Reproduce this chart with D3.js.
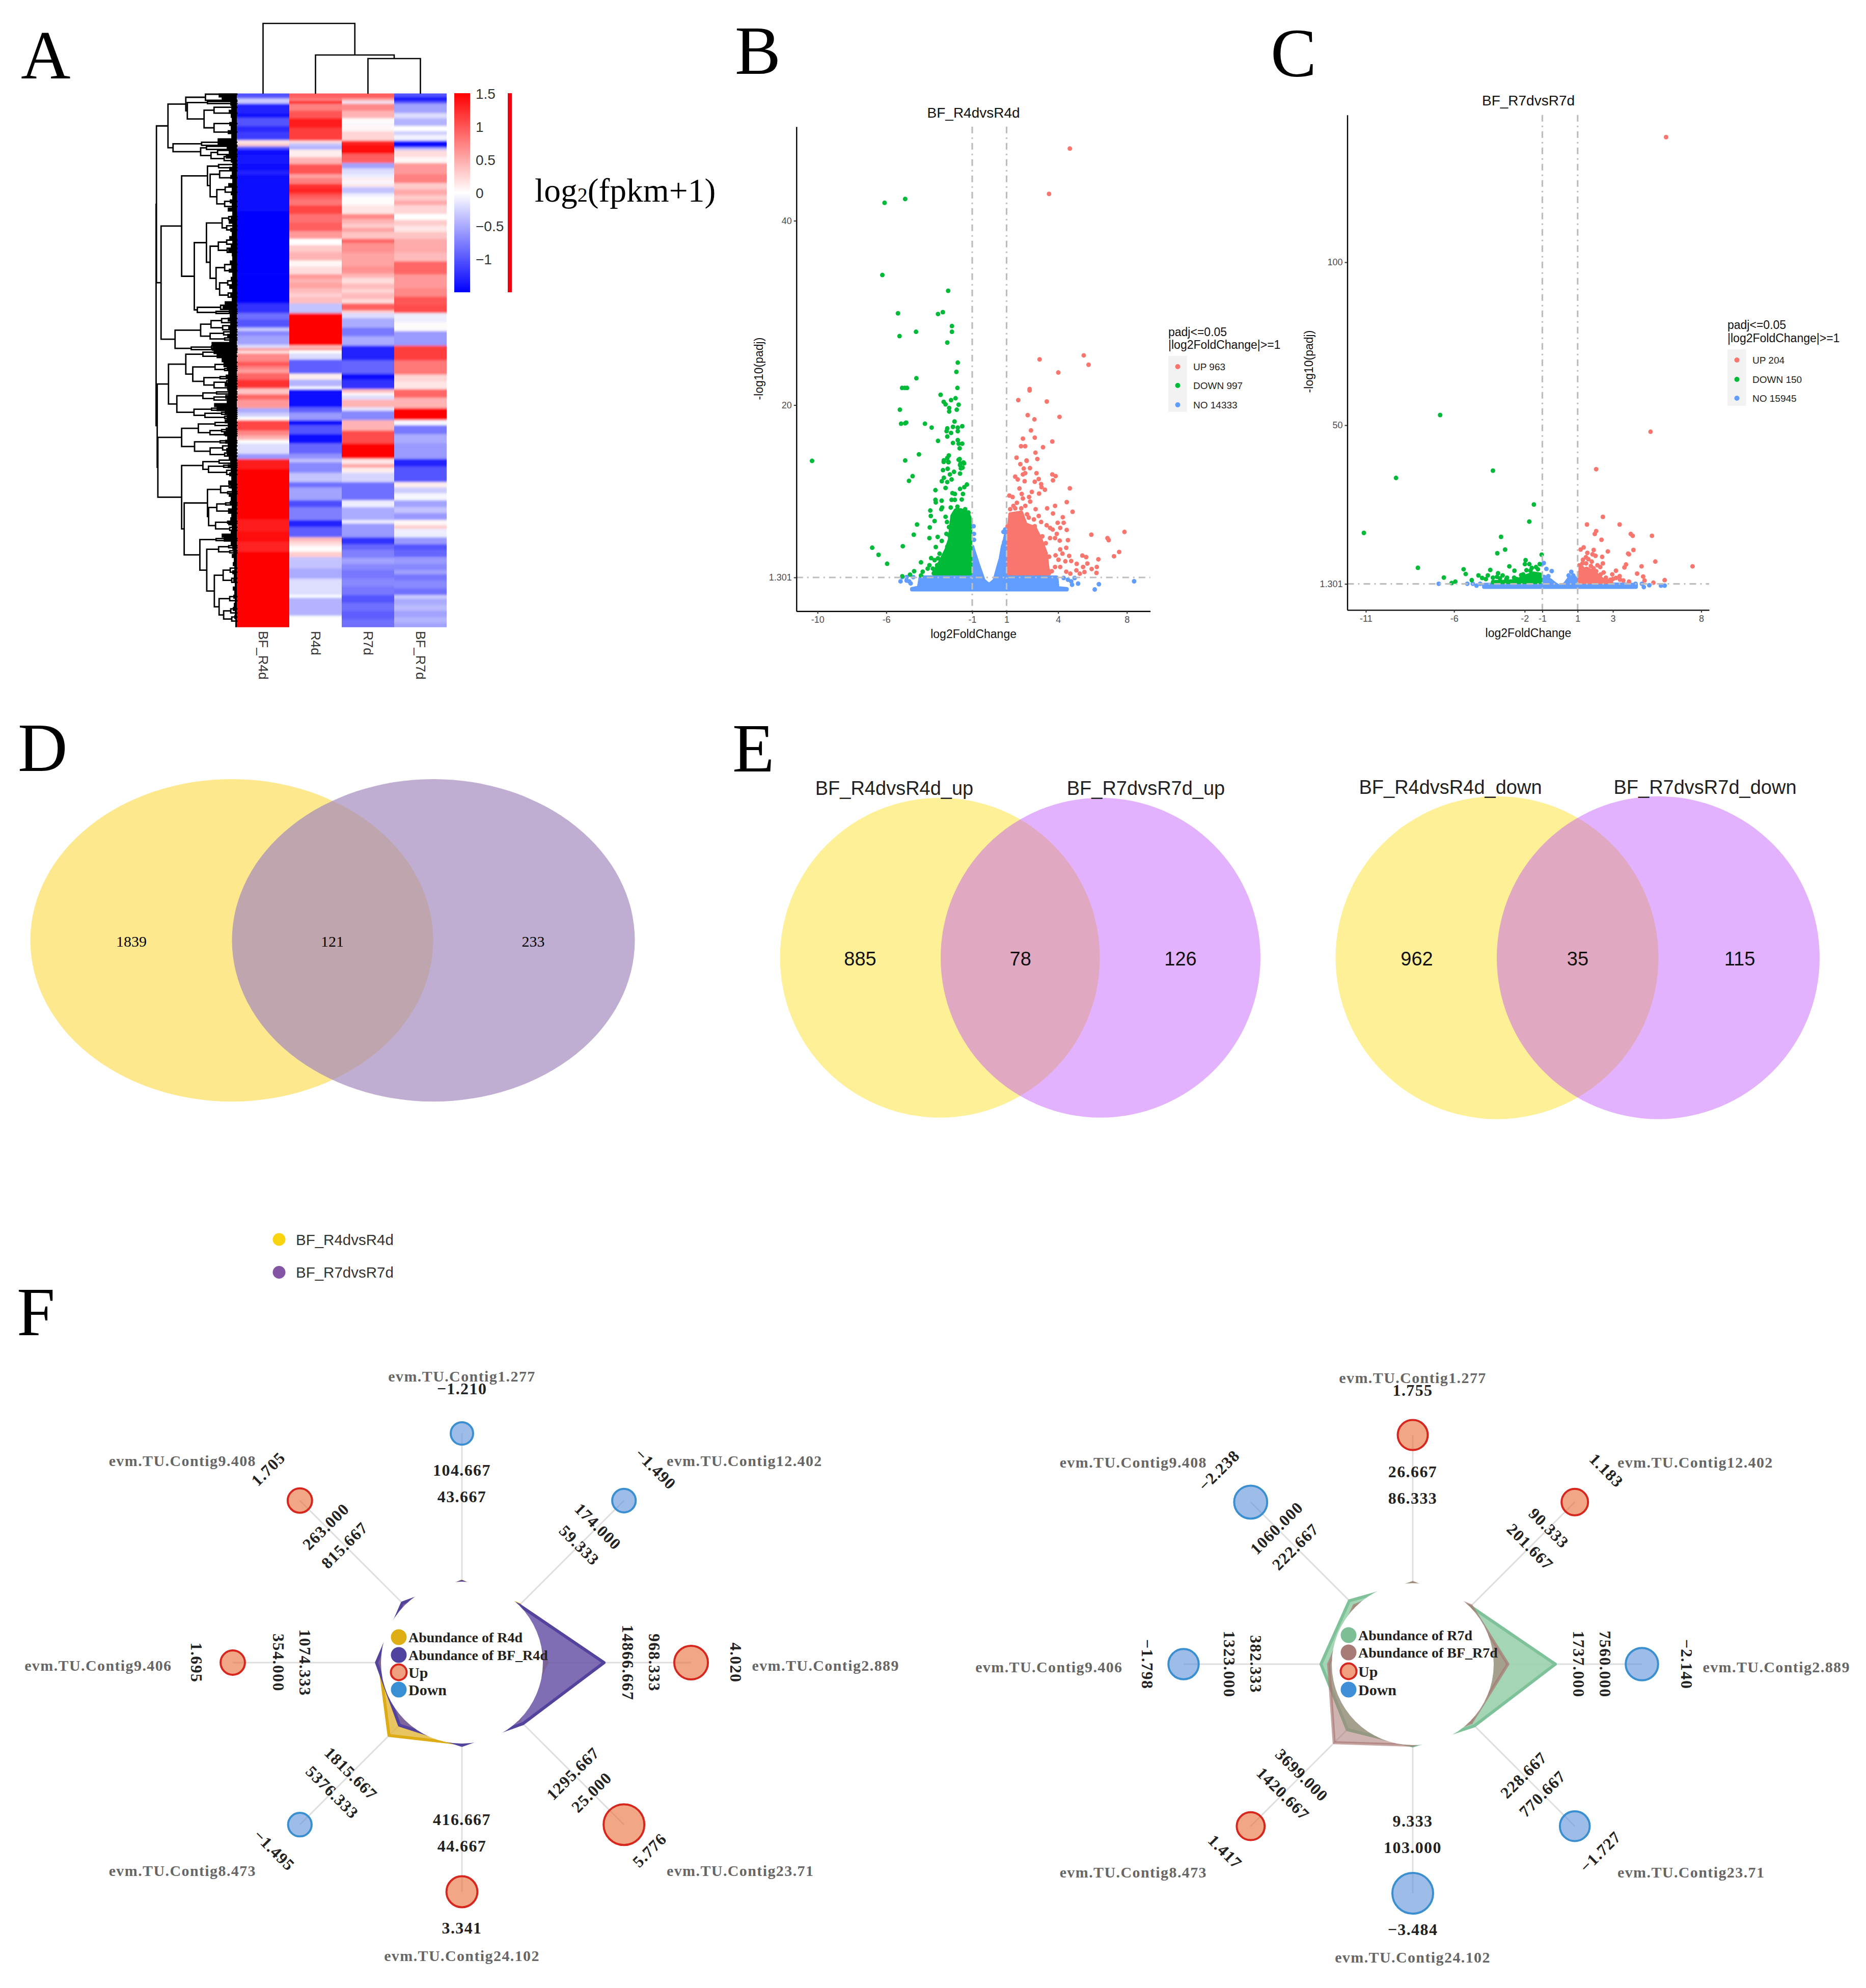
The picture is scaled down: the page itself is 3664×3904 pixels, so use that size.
<!DOCTYPE html>
<html>
<head>
<meta charset="utf-8">
<script src="https://cdnjs.cloudflare.com/ajax/libs/d3/7.8.5/d3.min.js"></script>
<style>
html,body{margin:0;padding:0;background:#fff;}
svg{display:block;}
text{font-family:"Liberation Sans",Arial,sans-serif;}
</style>
</head>
<body>
<div id="chart"></div>
<script>
// ===== DATA =====
const panelLetters = ["A","B","C","D","E","F"];
// --- A: heatmap. Each column = list of [row where the band ends, z-score]
const heatColumns = ["BF_R4d","R4d","R7d","BF_R7d"];
const heatRowCount = 262;
const heatBF_R4d = [[2.5,-1.0],[5,-0.3],[10,-1.3],[12,-1.4],[16,-1.0],[19,-1.25],[23,-1.15],[24.5,0.15],[26,0.3],[27.5,-1.0],[30,-1.45],[34.6,-1.35],[38,-1.4],[40,-1.3],[43,-1.4],[58,-1.45],[88.7,-1.5],[103,-1.5],[107.8,-1.2],[111,-0.85],[115,-1.0],[116.6,-0.3],[119,-0.7],[123.4,-0.55],[125,-0.2],[126.4,0.6],[127.6,0.15],[131.7,0.7],[133.8,1.0],[135.5,0.75],[137.2,0.55],[140.5,0.9],[144.8,1.2],[147.7,0.35],[150.3,0.9],[154.5,0.6],[156.6,-0.5],[158.7,-0.3],[160.4,0.0],[165.5,1.1],[168,0.7],[170.1,0.45],[171.8,0.0],[176.9,-0.2],[179.4,-0.6],[184.5,1.35],[209,1.5],[214.9,1.35],[220,1.45],[225,1.3],[262,1.5]];
const heatR4d = [[2.5,0.95],[3.8,0.75],[5,1.4],[8.5,0.75],[12.2,1.0],[16.9,1.35],[23.2,1.15],[24.5,0.2],[26.2,-0.35],[27.5,-0.5],[31.3,0.1],[34.7,0.45],[39.7,1.0],[41.5,0.55],[44.4,0.75],[47,1.2],[48.5,1.35],[49.9,1.15],[52,0.95],[54.9,0.8],[59.2,1.1],[63.4,0.85],[67.6,0.95],[71.4,0.6],[74.4,0.0],[77.8,0.3],[82,0.45],[85,0.05],[88.8,0.2],[91,0.6],[93,0.45],[95.6,0.55],[98,0.4],[100,0.28],[103.1,0.38],[107.8,-0.35],[123.8,1.5],[125,0.3],[126,0.8],[127.6,0.0],[130.6,-0.2],[137.6,-0.95],[140.5,0.1],[143.9,-0.45],[145.2,0.0],[154.1,-1.45],[156.6,-0.95],[160.4,-0.6],[162.9,-1.4],[167.2,-1.0],[171.8,-1.4],[176.9,-0.9],[179.4,-0.65],[181.1,-0.35],[186.2,-0.7],[190.8,-0.35],[193.4,-0.85],[199.7,-0.55],[203.1,-1.05],[209.4,-0.75],[212.8,-1.3],[217.9,-0.95],[220,0.4],[222.1,0.2],[225,0.02],[227.6,0.3],[233.1,-0.35],[238.2,-0.5],[246.2,-0.2],[247.5,0.0],[256.4,-0.45],[262,0.0]];
const heatR7d = [[2.5,0.95],[3.8,0.5],[5,-0.1],[8.5,0.7],[12.2,0.45],[14.4,0.02],[15.6,-0.05],[18.6,0.05],[23.2,0.25],[25.4,1.3],[29.6,1.45],[34.2,0.95],[36.8,-0.55],[39.7,-0.2],[41.5,-0.1],[43,0.1],[44.5,-0.05],[46,0.15],[49,-0.35],[50.7,-0.1],[54.9,0.02],[59.2,0.15],[61.7,0.7],[64,0.45],[66,0.3],[68,0.55],[71.4,0.35],[73.5,0.9],[78.2,0.65],[85,0.55],[88.3,0.65],[90.5,0.45],[93.4,0.2],[96,0.4],[98,0.25],[101,0.4],[103.1,0.2],[106.5,0.95],[107.8,0.3],[110.3,-0.2],[115,-0.5],[119.2,-0.8],[123.8,-0.5],[131,-1.3],[137.6,-0.9],[140.5,-1.45],[145.2,-1.2],[146.9,0.4],[148.2,0.05],[150.3,-0.2],[154.1,0.45],[155.8,-0.15],[160.4,-0.7],[165.5,0.45],[171.8,1.05],[179.4,1.5],[182,0.15],[183.7,0.55],[186.2,0.1],[190.8,-0.25],[199.7,-0.85],[203.1,-0.1],[209.4,-0.5],[211.1,-0.1],[217.9,-0.6],[221.3,-1.2],[224,-0.9],[228,-0.75],[231,-0.55],[234,-0.7],[238,-0.8],[242,-0.7],[246.2,-0.8],[250,-1.0],[254,-0.85],[258,-0.95],[262,-0.85]];
const heatBF_R7d = [[1.7,-1.0],[3.8,-1.35],[5,-1.0],[9.7,-0.55],[12.2,-0.2],[16,-0.45],[18.6,0.0],[20.3,-0.3],[23.2,-0.08],[26.6,-1.4],[27.9,-0.4],[31.3,0.2],[34.2,0.05],[39.7,0.6],[44,0.75],[47,0.3],[50,0.5],[52.5,0.3],[54.9,0.5],[59.2,0.25],[62.1,0.0],[65,0.3],[68,0.15],[71.4,0.35],[78.2,0.5],[82.4,0.4],[88.8,0.9],[95.6,0.6],[99.8,0.7],[104,1.0],[107.8,1.05],[112.4,-0.1],[116.7,0.03],[123.8,-0.6],[131,1.15],[138,0.8],[141.4,0.25],[145.2,0.15],[149.4,0.9],[154.5,0.45],[160.4,1.5],[162.9,-0.05],[167.2,-0.8],[171.8,-0.5],[179.4,-0.6],[183.2,-1.3],[190.8,-1.0],[193.4,0.1],[196.3,-0.3],[199.7,-0.05],[203,-0.55],[206,-0.35],[209.4,-0.6],[212,0.05],[213.7,0.3],[217.9,-0.1],[221.3,-0.6],[224,-1.0],[227.6,-0.9],[231,-0.6],[234,-0.7],[236,-0.55],[239,-0.8],[243,-0.7],[246.2,-0.85],[248,-0.3],[251,-0.5],[254,-0.4],[257,-0.55],[260,-0.45],[262,-0.55]];
const heatColourTicks = [1.5,1,0.5,0,-0.5,-1];
// left dendrogram: [height, childA, childB]; a bare number is a leaf row
const rowTree = [159.5,
  [158.8,
    [136,
      [100.8,[62,0.4,3.4],[97.8,[58,4,5],[64.7,[45,6.8,9.7],[45,14.8,19]]]],
      [126,[69.6,24,25.5],[71.5,[60,26,27.5],[51,[38,28,30],[25,31,33]]]]],
    [149.7,
      [109,
        [58,[36,34.9,36.5],[52.7,[34,38,41.4],[39.5,[23,46,48.5],[24,53,55.5]]]],
        [84,
          [60,[29,[16,60.5,62],[20,65,67]],[52.7,[36.5,[20,72,74],[19,76,78]],[41,[24,84,87],[34,[18,92,94],[17,98,100]]]]],
          [78,[32,104,106],[41,107,108]]]],
      [122,
        [71.5,[51,[30,110.5,112.5],[28,114,116]],[52.7,[26,117,118.5],[24,120,121]]],
        [90,[50,124,125],[48,125.5,126]]]]],
  [157.3,
    [135,
      [100.8,[67,127,129],[87,[43,[25,132,134],[24,135,136]],[65,[33,139,140],[45,[20,141,142.5],[18,144,145]]]]],
      [118.5,[67,[40,146.5,147.5],[45,149,150.5]],[84.6,[50,154.5,155.5],[63,[30,156.5,157.5],[24,158.5,159.5]]]]],
    [156,
      [109,
        [76,[43,161.5,163],[53,[30,165,166],[22,167,168]]],
        [83.5,[33,170.5,171.5],[52.7,[28,173,175],[24,176.5,178]]]],
      [109,
        [67,[35,180,181.5],[56,[26,182.5,183.5],[20,185,187]]],
        [104,
          [58,[32,[15,192,193.5],[18,195.5,196.5]],[55.7,[39.5,[22,201,202],[16,204,206]],[42,[18,210,211],[14,213,214.5]]]],
          [73,[41,218.5,219.5],[59.4,[36,[16,222,223],[14,224.5,225.5]],[44.4,[27,[13,233,235],[10,238,240]],[35,[14,247,249],[26,[12,253,255],[10,257,259]]]]]]]]]]];
// heights of the solid black comb of the row dendrogram, one value per two rows
const rowFringeHeights = [36,36,30, 13,11,16,12,10,15,12,18,11, 38,38, 20,16,22,
 12,9,15,10,13,9,17,10,12,9,14,10,18,9,12,16,9,13,10,15,9,12,17,10,9,14,11,16,9,12,10,15,9,13,10,
 24,28, 16,14,18,13,17,14,19,15, 50,48,46,40,30,24, 20,17,22,18,24,19,17,23,20, 45,40,24,
 20,24,18,22,26,19,23,18,21,20, 16,13,18,12,15,11,17,13,10,16,12,14,10,15,11,13,17,10,12, 30,26,
 12,9,7,10,6,8,5,9,6,7,4,8,5,7,4,6,8,4,5,3,3];
// column dendrogram: [height, left, right] with column names as leaves
const colTree = [137,"BF_R4d",[75,"R4d",[68,"R7d","BF_R7d"]]];

// --- B volcano
const volB_title = "BF_R4dvsR4d";
const volB_xticks = [-10,-6,-1,1,4,8];
const volB_yticks = [1.301,20,40];
const volB_legend = ["UP 963","DOWN 997","NO 14333"];
const volB_up = [[4.68,47.83],[3.47,42.91],[5.49,25.39],[5.77,24.38],[2.92,24.96],[4.01,23.53],[2.34,21.74],[2.34,21.59],[1.68,20.54],[3.34,20.39],[2.23,18.91],[2.62,18.45],[4.08,18.72],[2.42,17.25],[2.64,16.47],[1.95,16.36],[3.66,16.05],[1.84,15.54],[2.08,15.54],[3.12,15.43],[2.68,14.84],[2.79,14.15],[1.58,14.30],[2.16,13.99],
[1.80,13.59],[2.17,13.95],[2.0,13.12],[2.36,13.16],[1.95,12.48],[2.08,12.61],[2.74,12.61],[1.5,12.24],[1.65,11.93],[2.05,11.74],[2.87,11.98],[2.64,11.69],[3.66,12.48],[3.85,12.3],[3.7,11.84],[3.01,11.43],[3.03,11.1],[3.23,10.82],[1.75,10.95],[4.68,10.97],[2.47,10.58],[2.89,10.4],[1.88,10.36],[1.95,9.87],[2.31,10.03],[2.37,9.53],[1.16,10.18],[1.35,10.03],[1.6,9.4],[1.4,9.07],[2.09,9.07],[1.85,8.8],[2.69,8.71],[3.36,8.8],[3.82,9.07],[4.5,9.48],[3.7,8.24],[4.84,8.43],[4.27,7.84],[2.87,7.97],[3.01,7.32],[3.97,7.23],[4.32,7.23],[3.33,6.96],[3.53,6.68],[4.12,6.68],[4.5,6.46],[3.68,6.5],[3.92,6.03],[3.82,5.57],[3.53,5.57],[4.09,5.3],[4.57,5.35],[4.47,4.52],[4.12,4.34],[4.25,3.88],[4.64,3.64],[3.85,3.7],[4.02,3.22],[4.42,3.05],[4.76,3.09],[5.08,2.78],[5.41,3.68],[5.63,3.51],[6.34,3.27],[5.93,5.94],[6.87,5.57],[6.94,5.35],[5.7,2.81],[5.45,2.44],[6.25,2.44],[5.95,2.22],[6.23,1.8],[5.06,2.07],[5.26,1.71],[5.53,1.89],[4.71,1.71],[4.47,1.93],[4.12,2.44],[3.82,2.44],[3.63,1.98],[3.28,3.0],[3.48,3.55],[3.18,2.44],[2.64,6.86],[3.08,5.76],[3.28,5.02],[2.29,7.79],[2.59,7.6],[2.19,8.15],[1.5,8.8],[1.21,8.71],[1.06,6.86],[7.86,6.24],[7.55,4.07],[7.25,3.60]];
const volB_down = [[-6.10,41.94],[-4.90,42.36],[-6.23,34.11],[-2.40,32.40],[-2.71,30.08],[-2.99,29.88],[-5.32,29.96],[-2.18,28.57],[-2.18,27.95],[-4.27,27.95],[-5.23,27.48],[-2.45,26.78],[-1.84,24.61],[-1.92,23.60],[-4.25,22.91],[-5.08,21.86],[-4.92,21.86],[-4.79,21.86],[-1.86,21.86],[-2.84,21.12],[-2.66,20.35],[-2.23,20.54],[-1.97,20.74],[-2.55,20.08],[-1.79,20.04],[-5.21,19.50],[-2.34,19.69],[-1.90,19.50],[-2.34,19.30],[-2.03,18.22],[-5.14,17.98],[-4.90,18.02],[-4.84,18.10],[-3.75,17.98],[-3.36,17.56],[-2.45,17.48],[-2.12,17.64],[-1.84,17.56],[-1.58,17.71],[-2.49,17.17],[-2.23,16.98],[-1.84,17.17],[-2.45,16.59],[-2.99,16.12],[-1.84,16.20],[-2.12,15.89],[-1.79,15.81],[-1.58,15.81],[-1.73,15.31],[-10.32,13.95],[-4.90,13.99],[-4.10,14.65],[-2.36,14.53],[-2.45,14.26],[-1.79,14.07],[-4.47,12.29],[-4.68,11.78],[-6.82,4.53],[-6.45,3.76],[-5.95,2.79],[-2.66,13.84],[-2.38,13.80],[-1.68,13.68],[-1.47,13.68],
[-3.14,10.77],[-3.14,9.72],[-3.12,9.44],[-2.78,9.63],[-3.44,8.56],[-3.41,7.97],[-3.19,7.42],[-3.47,6.73],[-4.21,7.05],[-4.40,5.94],[-3.49,5.57],[-3.01,5.70],[-2.77,5.26],[-3.12,4.60],[-5.04,4.69],[-2.90,3.88],[-3.39,3.40],[-3.19,3.18],[-3.98,2.94],[-3.49,2.63],[-3.59,2.26],[-3.88,1.93],[-4.38,1.98],[-4.62,1.61],[-3.98,1.52],[-5.07,1.43],[-2.55,11.01],[-2.15,10.45],[-2.01,10.36],[-1.71,10.91],[-1.46,11.1],[-1.31,11.38],[-1.54,10.36],[-1.61,9.76],[-2.2,9.72],[-2.01,9.72],[-2.77,11.74],[-2.65,12.11],[-2.45,11.65],[-2.2,11.93],[-2.3,12.48],[-2.06,12.76],[-1.71,12.57],[-2.7,12.94],[-2.43,13.09],[-1.66,13.13],[-1.56,13.22],[-1.71,13.49],[-1.51,13.77],[-2.65,14.01],[-2.4,13.86],[-1.73,14.14],[-2.8,8.7],[-2.75,8.89],[-2.55,7.88],[-2.47,7.32],[-2.35,6.77],[-2.5,6.03],[-2.33,5.85],[-2.25,8.89],[-1.86,8.98],[-1.41,8.71],[-1.22,8.34],[-1.17,7.78],[-3.29,2.26],[-3.04,2.63],[-2.75,2.81],[-2.65,3.64],[-2.45,4.65],[-2.99,3.38]];
const volB_no = [[-0.92,6.86],[-0.9,6.03],[-0.9,5.39],[0.92,6.51],[0.82,6.24],[0.86,5.15],[-5.17,0.88],[-5.07,1.34],[-4.82,1.34],[-4.82,0.97],[-4.58,0.66],[-4.43,1.34],[-4.67,0.88],[8.42,0.89],[4.32,1.25],[4.57,1.06],[4.76,0.88],[4.81,0.51],[5.16,0.64],[4.96,1.25],[6.37,0.57],[6.13,0],[3.92,0.51]];
// dense clouds given as x + upper envelope of -log10(padj)
const volB_upCloudX = [1.12,1.22,1.85,2.1,2.64,2.98,3.28,3.38,3.48];
const volB_upCloudY = [6.13,8.15,8.34,7.05,6.68,5.39,3.92,2.26,1.75];
const volB_downCloudX = [-3.25,-2.85,-2.5,-2.3,-2.23,-2.15,-1.95,-1.66,-1.25,-1.12];
const volB_downCloudY = [1.75,3.0,4.3,5.4,6.8,8.0,8.6,8.6,8.3,7.4];
const volB_noCloudX = [-4.5,-4.1,-4.0,-1.01,-1.0,-0.88,-0.62,-0.34,-0.1,-0.02,0.06,0.3,0.52,0.66,0.78,0.88,0.99,1.0,3.9,3.95,4.5];
const volB_noCloudY = [0.05,0.2,1.3,1.3,4.65,3.92,2.44,0.97,0.6,0.55,0.6,0.97,2.44,3.36,4.65,5.2,6.2,1.3,1.3,0.15,0.05];

// --- C volcano
const volC_title = "BF_R7dvsR7d";
const volC_xticks = [-11,-6,-2,-1,1,3,8];
const volC_yticks = [1.301,50,100];
const volC_legend = ["UP 204","DOWN 150","NO 15945"];
const volC_up = [[6.01,138.4],[5.13,47.99],[2.05,36.5],[2.43,21.88],[1.53,19.53],[3.38,19.53],[2.05,17.52],[1.97,16.63],[4.01,16.63],[4.12,16.07],[5.21,16.07],[2.35,14.84],[1.34,12.5],[1.17,11.83],[1.91,11.72],[4.16,11.72],[2.71,11.27],[3.86,10.6],[3.91,10.38],[1.55,10.83],[2.01,9.93],[2.39,9.6],[5.40,8.15],[1.47,9.49],[1.84,10.38],[7.51,6.7],[3.74,7.25],[3.65,6.36],[4.62,6.7],[2.43,7.59],[2.28,6.47],[3.17,5.36],[1.48,7.59],[1.80,8.15],[1.27,7.59],[1.17,5.92],[2.12,7.03],[4.37,4.46],[4.71,3.57],[5.93,2.46],[4.79,2.34],[5.29,1.67],[3.91,2.0],[3.59,2.34],[3.38,3.68],[2.96,4.24],[2.47,4.8],[3.17,3.13],[2.85,2.57],[1.3,8.7],[1.6,8.9],[1.9,6.1],[1.1,7.0],[1.25,6.2],[1.75,6.8],[2.05,5.2],[2.3,4.2],[2.6,3.2],[3.0,2.8],[3.4,2.6]];
const volC_down = [[-6.79,53.13],[-3.80,36.05],[-9.29,33.82],[-1.48,25.67],[-1.74,20.42],[-11.11,16.96],[-3.34,15.74],[-3.11,11.83],[-3.55,10.71],[-1.04,10.27],[-8.05,6.25],[-5.46,5.8],[-5.34,4.35],[-6.58,3.24],[-5.93,2.0],[-6.14,1.56],[-3.95,5.58],[-2.87,6.7],[-2.58,5.36],[-1.95,8.59],[-1.99,7.37],[-1.74,7.37],[-1.15,7.37],[-1.36,6.47],[-4.62,3.91],[-4.41,3.13],[-5.0,2.46],[-4.09,3.91],[-4.2,2.79],[-3.51,4.58],[-3.57,3.46],[-3.25,3.91],[-3.04,2.79],[-2.45,2.79],[-1.67,5.36],[-2.09,4.24],[-2.6,3.2],[-2.2,4.0],[-1.9,5.5],[-1.6,6.2],[-1.25,5.8],[-3.0,3.2],[-3.4,3.0],[-3.8,3.2]];
const volC_no = [[-6.87,1.34],[-0.92,7.7],[-1.04,7.25],[-0.77,5.92],[-0.47,5.25],[-0.66,3.68],[0.64,5.02],[0.49,3.9],[0.75,3.9],[-5.25,1.34],[-4.94,1.34],[-4.73,0.78],[-4.52,1.34],[5.72,0.78],[5.93,0.78],[4.75,0.33],[4.64,1.34],[4.28,1.34],[5.06,0.89]];
const volC_upCloudX = [1.12,1.5,2,2.4,2.9];
const volC_upCloudY = [5.0,6.0,4.5,2.6,1.8];
const volC_downCloudX = [-3.8,-3,-2.5,-2,-1.5,-1.12];
const volC_downCloudY = [1.8,2.0,2.2,3.5,4.5,4.2];
const volC_noCloudX = [-4.3,-1.1,-1.0,-0.9,-0.55,-0.3,-0.1,0.1,0.3,0.5,0.8,0.99,1.0,4.3];
const volC_noCloudY = [1.0,1.3,2.4,3.5,2.4,1.3,0.6,0.6,1.3,2.8,3.4,2.2,1.3,1.0];

const volLegendTitle = ["padj<=0.05","|log2FoldChange|>=1"];

// --- D / E venns
const vennD_values = [1839,121,233];
const vennD_legend = ["BF_R4dvsR4d","BF_R7dvsR7d"];
const vennE1_names = ["BF_R4dvsR4d_up","BF_R7dvsR7d_up"];
const vennE1_values = [885,78,126];
const vennE2_names = ["BF_R4dvsR4d_down","BF_R7dvsR7d_down"];
const vennE2_values = [962,35,115];

// --- F radar panels; order clockwise from the top
const genes = ["evm.TU.Contig1.277","evm.TU.Contig12.402","evm.TU.Contig2.889","evm.TU.Contig23.71","evm.TU.Contig24.102","evm.TU.Contig8.473","evm.TU.Contig9.406","evm.TU.Contig9.408"];
const abundR4d   = [104.667,174.000,968.333,25.000,44.667,5376.333,354.000,263.000];
const abundBFR4d = [43.667,59.333,14866.667,1295.667,416.667,1815.667,1074.333,815.667];
const fcR4d      = [-1.210,-1.490,4.020,5.776,3.341,-1.495,1.695,1.705];
const abundR7d   = [26.667,90.333,7560.000,770.667,103.000,1420.667,1323.000,1060.000];
const abundBFR7d = [86.333,201.667,1737.000,228.667,9.333,3699.000,382.333,222.667];
const fcR7d      = [1.755,1.183,-2.140,-1.727,-3.484,1.417,-1.798,-2.238];

// ===== DRAW =====
const W = 3664, H = 3904;
const svg = d3.select("#chart").append("svg").attr("width",W).attr("height",H).attr("viewBox",`0 0 ${W} ${H}`);
svg.append("rect").attr("width",W).attr("height",H).attr("fill","#fff");
const SERIF = '"Liberation Serif","Times New Roman",serif';
const SANS = '"Liberation Sans",Arial,sans-serif';
const defs = svg.append("defs");

// panel letters
const letterPos = {A:[41,154],B:[1443,145],C:[2495,150],D:[35,1514],E:[1438,1515],F:[33,2622]};
svg.append("g").selectAll("text").data(panelLetters).join("text")
  .attr("x",d=>letterPos[d][0]).attr("y",d=>letterPos[d][1])
  .attr("font-size",135).style("font-family",SERIF).attr("fill","#000").text(d=>d);

// ---------- A ----------
(function(){
  const g = svg.append("g");
  const xCol = d3.scaleBand().domain(heatColumns).range([465,877]);
  const yRow = d3.scaleLinear().domain([0,heatRowCount]).range([183.4,1231.7]);
  const colour = d3.scaleLinear().domain([-1.5,0,1.5]).range(["#0000ff","#ffffff","#ff0000"]).clamp(true);
  const cols = {BF_R4d:heatBF_R4d,R4d:heatR4d,R7d:heatR7d,BF_R7d:heatBF_R7d};
  const blur = defs.append("filter").attr("id","soft").attr("x",0).attr("y",-0.02).attr("width",1).attr("height",1.04);
  blur.append("feGaussianBlur").attr("stdDeviation","0 2.2");
  defs.append("clipPath").attr("id","heatclip").append("rect").attr("x",465).attr("y",183.4).attr("width",412).attr("height",1048.3);
  const heat = g.append("g").attr("clip-path","url(#heatclip)");
  heatColumns.forEach(c=>{
    let prev = 0;
    const bands = cols[c].map(([end,v])=>{const b={c,r0:prev,r1:end,v};prev=end;return b;});
    // first and last bands run past the clip so the soft edge stays hidden
    heat.append("g").attr("filter","url(#soft)").selectAll("rect").data(bands).join("rect")
      .attr("x",xCol(c)).attr("width",xCol.bandwidth())
      .attr("y",d=>yRow(d.r0)-(d.r0===0?12:0)).attr("height",d=>yRow(d.r1)-yRow(d.r0)+0.5+((d.r0===0||d.r1===heatRowCount)?12:0))
      .attr("fill",d=>colour(d.v));
  });
  g.append("g").selectAll("text").data(heatColumns).join("text")
    .attr("transform",d=>`translate(${xCol(d)+xCol.bandwidth()/2},1239) rotate(90)`)
    .attr("dominant-baseline","central").attr("font-size",26).attr("fill","#333").text(d=>d);

  // row dendrogram
  const hx = d3.scaleLinear().domain([0,159.5]).range([465,306.5]);
  const fringe = d3.area().x0(hx(0)).x1(d=>hx(d)).y((d,i)=>yRow(i*2)).curve(d3.curveStepAfter);
  g.append("path").attr("d",fringe(rowFringeHeights)).attr("fill","#000");
  const kids = n=>Array.isArray(n)?n.slice(1):null;
  const root = d3.hierarchy(rowTree,kids);
  root.eachAfter(n=>{
    if(n.children){n.h=n.data[0];n.py=d3.mean(n.children,c=>c.py);}
    else{n.h=0;n.py=yRow(n.data);}
  });
  const link = [];
  root.each(n=>{ if(n.children){
    link.push([[hx(n.h),n.children[0].py],[hx(n.h),n.children[1].py]]);
    n.children.forEach(c=>link.push([[hx(n.h),c.py],[hx(c.h),c.py]]));
  }});
  g.append("path").attr("fill","none").attr("stroke","#000").attr("stroke-width",2.8).attr("stroke-linecap","square")
    .attr("d",link.map(l=>d3.line()(l)).join(""));

  // column dendrogram
  const hy = d3.scaleLinear().domain([0,137]).range([183,46]);
  const colRoot = d3.hierarchy(colTree,kids);
  colRoot.eachAfter(n=>{
    if(n.children){n.h=n.data[0];n.px=d3.mean(n.children,c=>c.px);}
    else{n.h=0;n.px=xCol(n.data)+xCol.bandwidth()/2;}
  });
  const clink=[];
  colRoot.each(n=>{ if(n.children){
    clink.push([[n.children[0].px,hy(n.h)],[n.children[1].px,hy(n.h)]]);
    n.children.forEach(c=>clink.push([[c.px,hy(n.h)],[c.px,hy(c.h)]]));
  }});
  g.append("path").attr("fill","none").attr("stroke","#000").attr("stroke-width",2.6).attr("stroke-linecap","square")
    .attr("d",clink.map(l=>d3.line()(l)).join(""));

  // colour bar
  const yBar = d3.scaleLinear().domain([1.5,-1.5]).range([183,574]);
  const grad = defs.append("linearGradient").attr("id","hb").attr("x1",0).attr("y1",0).attr("x2",0).attr("y2",1);
  [[0,"#ff0000"],[0.5,"#ffffff"],[1,"#0000ff"]].forEach(s=>grad.append("stop").attr("offset",s[0]).attr("stop-color",s[1]));
  g.append("rect").attr("x",892).attr("y",yBar(1.5)).attr("width",31).attr("height",yBar(-1.5)-yBar(1.5)).attr("fill","url(#hb)");
  g.append("g").selectAll("text").data(heatColourTicks).join("text")
    .attr("x",934).attr("y",d=>yBar(d)+1).attr("dominant-baseline","central").attr("font-size",28).attr("fill","#333")
    .text(d=>d3.format("")(d).replace("-","\u2212"));
  g.append("rect").attr("x",997).attr("y",yBar(1.5)).attr("width",8).attr("height",yBar(-1.5)-yBar(1.5)).attr("fill","#f0000f");
  const t = g.append("text").attr("x",1050).attr("y",396).style("font-family",SERIF).attr("font-size",65.5).attr("fill","#000");
  t.append("tspan").text("log");
  t.append("tspan").attr("font-size",40).text("2");
  t.append("tspan").text("(fpkm+1)");
})();

// ---------- B, C ----------
const RED="#F8766D", GREEN="#00BA38", BLUE="#619CFF";
function volcano(o){
  const g = svg.append("g");
  const x = d3.scaleLinear().domain(o.xd).range([o.left,o.right]);
  const y = d3.scaleLinear().domain(o.yd).range([o.bottom,o.top]);
  const cloud = (xs,ys,col,base)=>{
    const pts = xs.map((v,i)=>[v,ys[i]]);
    const a = d3.area().x(d=>x(d[0])).y0(y(base)).y1(d=>y(d[1]));
    g.append("path").attr("d",a(pts)).attr("fill",col).attr("stroke",col).attr("stroke-width",8).attr("stroke-linejoin","round");
  };
  cloud(o.noX,o.noY,BLUE,o.noBase);
  cloud(o.downX,o.downY,GREEN,o.cloudBase);
  cloud(o.upX,o.upY,RED,o.cloudBase);
  const pts = (arr,col)=>g.append("g").selectAll("circle").data(arr).join("circle")
    .attr("cx",d=>x(d[0])).attr("cy",d=>y(d[1])).attr("r",4.5).attr("fill",col);
  pts(o.no,BLUE); pts(o.down,GREEN); pts(o.up,RED);
  // thresholds
  const dash="13 8 3 8";
  [-1,1].forEach(v=>g.append("line").attr("x1",x(v)).attr("x2",x(v)).attr("y1",o.top).attr("y2",o.bottom)
    .attr("stroke","#BDBDBD").attr("stroke-width",3.2).attr("stroke-dasharray",dash));
  g.append("line").attr("x1",o.left).attr("x2",o.right).attr("y1",y(1.301)).attr("y2",y(1.301))
    .attr("stroke","#BDBDBD").attr("stroke-width",3.2).attr("stroke-dasharray",dash);
  // axes
  const ax = g.append("g").attr("transform",`translate(0,${o.bottom})`)
    .call(d3.axisBottom(x).tickValues(o.xt).tickSize(5).tickSizeOuter(0).tickPadding(5).tickFormat(d=>d));
  const ay = g.append("g").attr("transform",`translate(${o.left},0)`)
    .call(d3.axisLeft(y).tickValues(o.yt).tickSize(5).tickSizeOuter(0).tickPadding(4).tickFormat(d=>d));
  [ax,ay].forEach(a=>{
    a.selectAll("text").attr("font-size",18).attr("fill","#4D4D4D").style("font-family",SANS);
    a.selectAll(".tick line").attr("stroke","#333").attr("stroke-width",2);
    a.select(".domain").attr("stroke","#000").attr("stroke-width",2.4);
  });
  const mid=(o.titleX);
  g.append("text").attr("x",mid).attr("y",o.titleY).attr("text-anchor","middle").attr("dominant-baseline","central").attr("font-size",28).attr("fill","#111").text(o.title);
  g.append("text").attr("x",mid).attr("y",o.xlabY).attr("text-anchor","middle").attr("dominant-baseline","central").attr("font-size",23).attr("fill","#111").text("log2FoldChange");
  g.append("text").attr("transform",`translate(${o.ylabX},${o.ylabY}) rotate(-90)`).attr("text-anchor","middle").attr("dominant-baseline","central").attr("font-size",23).attr("fill","#111").text("-log10(padj)");
  // legend
  g.append("rect").attr("x",o.legX).attr("y",o.legBg[0]).attr("width",36.5).attr("height",o.legBg[1]-o.legBg[0]).attr("fill","#F2F2F2");
  volLegendTitle.forEach((s,i)=>g.append("text").attr("x",o.legX).attr("y",o.legT[i]).attr("dominant-baseline","central").attr("font-size",23).attr("fill","#111").text(s));
  o.legend.forEach((s,i)=>{
    g.append("circle").attr("cx",o.legX+18.5).attr("cy",o.legY[i]).attr("r",5).attr("fill",[RED,GREEN,BLUE][i]);
    g.append("text").attr("x",o.legX+49).attr("y",o.legY[i]).attr("dominant-baseline","central").attr("font-size",19).attr("fill","#222").text(s);
  });
}
volcano({left:1563.8,right:2258.6,top:248.8,bottom:1200.3,xd:[-11.23,9.36],yd:[-2.36,50.2],xt:volB_xticks,yt:volB_yticks,
  up:volB_up,down:volB_down,no:volB_no,upX:volB_upCloudX,upY:volB_upCloudY,downX:volB_downCloudX,downY:volB_downCloudY,noX:volB_noCloudX,noY:volB_noCloudY,noBase:0,cloudBase:1.75,
  title:volB_title,titleX:1911.6,titleY:221,xlabY:1245,ylabX:1490,ylabY:724,legX:2294,legBg:[698.6,808.8],legT:[652,677],legY:[720,757,795],legend:volB_legend});
volcano({left:2645.5,right:3356,top:225.7,bottom:1197.9,xd:[-12.05,8.45],yd:[-6.7,145.2],xt:volC_xticks,yt:volC_yticks,
  up:volC_up,down:volC_down,no:volC_no,upX:volC_upCloudX,upY:volC_upCloudY,downX:volC_downCloudX,downY:volC_downCloudY,noX:volC_noCloudX,noY:volC_noCloudY,noBase:0.4,cloudBase:1.9,
  title:volC_title,titleX:3001,titleY:197,xlabY:1243,ylabX:2570,ylabY:710,legX:3392,legBg:[685.7,797],legT:[638,663.6],legY:[707,745,782],legend:volC_legend});

// ---------- D ----------
(function(){
  const g=svg.append("g");
  const cy=1846.6, centers=[455,851], rx=395.5, ry=316.6;
  g.append("ellipse").attr("cx",centers[0]).attr("cy",cy).attr("rx",rx).attr("ry",ry).attr("fill","#FDE88E");
  g.append("ellipse").attr("cx",centers[1]).attr("cy",cy).attr("rx",rx).attr("ry",ry).attr("fill","#A186BD").attr("fill-opacity",0.68);
  const xs=[258,652.6,1047];
  g.append("g").selectAll("text").data(vennD_values).join("text").attr("x",(d,i)=>xs[i]).attr("y",1848)
    .attr("text-anchor","middle").attr("dominant-baseline","central").style("font-family",SERIF).attr("font-size",30).attr("fill","#000").text(d=>d);
  const ly=[2434,2498.5], lc=["#F9D30F","#8555A5"];
  vennD_legend.forEach((s,i)=>{
    g.append("circle").attr("cx",548).attr("cy",ly[i]).attr("r",12.5).attr("fill",lc[i]);
    g.append("text").attr("x",581).attr("y",ly[i]).attr("dominant-baseline","central").attr("font-size",29.5).attr("fill","#333").text(s);
  });
})();

// ---------- E ----------
function vennE(o){
  const g=svg.append("g");
  g.append("circle").attr("cx",o.cx[0]).attr("cy",1880.7).attr("r",o.r).attr("fill","#FEF096");
  g.append("circle").attr("cx",o.cx[1]).attr("cy",1880.7).attr("r",o.r).attr("fill","#BA47FC").attr("fill-opacity",0.42);
  g.append("g").selectAll("text").data(o.values).join("text").attr("x",(d,i)=>o.vx[i]).attr("y",1883.4)
    .attr("text-anchor","middle").attr("dominant-baseline","central").attr("font-size",38).attr("fill","#111").text(d=>d);
  g.append("g").selectAll("text.n").data(o.names).join("text").attr("x",(d,i)=>o.nx[i]).attr("y",o.ny)
    .attr("text-anchor","middle").attr("dominant-baseline","central").attr("font-size",38).attr("fill","#222").text(d=>d);
}
vennE({cx:[1845.6,2161],r:314,values:vennE1_values,vx:[1689,2003.7,2318],names:vennE1_names,nx:[1756,2250],ny:1548});
vennE({cx:[2939.5,3256],r:317,values:vennE2_values,vx:[2782,3098,3416],names:vennE2_names,nx:[2848,3348],ny:1546});

// ---------- F ----------
function radar(o){
  const g=svg.append("g").attr("transform",`translate(${o.cx},${o.cy})`);
  const ang=d3.scalePoint().domain(d3.range(8)).range([0,Math.PI*7/4]);
  const R=450;
  const size=d3.scaleLinear().domain(o.sizeDomain).range(o.sizeRange);
  const r=d3.scaleLinear().domain([0,o.rMax]).range([159,o.rOut]);
  g.append("g").selectAll("line").data(d3.range(8)).join("line").attr("x1",0).attr("y1",0)
    .attr("x2",i=>d3.pointRadial(ang(i),R)[0]).attr("y2",i=>d3.pointRadial(ang(i),R)[1])
    .attr("stroke","#DEDEDE").attr("stroke-width",3);
  const poly=d3.lineRadial().angle((d,i)=>ang(i)).radius(d=>r(d)).curve(d3.curveLinearClosed);
  o.series.forEach(s=>g.append("path").attr("d",poly(s.v)).attr("fill",s.fill).attr("fill-opacity",s.op)
    .attr("stroke",s.stroke).attr("stroke-opacity",s.sop).attr("stroke-width",6).attr("stroke-linejoin","round"));
  g.append("circle").attr("r",159).attr("fill","#fff");
  // bubbles
  const isUp=v=>v>0;
  g.append("g").selectAll("circle").data(o.fc).join("circle")
    .attr("cx",(d,i)=>d3.pointRadial(ang(i),R)[0]).attr("cy",(d,i)=>d3.pointRadial(ang(i),R)[1])
    .attr("r",d=>size(Math.abs(d)))
    .attr("fill",d=>isUp(d)?"#E86A33":"#5E90D8").attr("fill-opacity",0.6)
    .attr("stroke",d=>isUp(d)?"#D7261E":"#3A8FD0").attr("stroke-width",4);
  const rot=[0,45,90,-45,0,45,90,-45];
  const lab=(rho,i,txt,fs,col)=>{
    const p=d3.pointRadial(ang(i),rho);
    g.append("text").attr("transform",`translate(${p[0]},${p[1]}) rotate(${rot[i]})`)
      .attr("text-anchor","middle").attr("dominant-baseline","central").style("font-family",SERIF)
      .attr("font-weight","bold").attr("font-size",fs).attr("letter-spacing",1.4).attr("fill",col).text(txt);
  };
  const fmt=v=>d3.format(".3f")(Math.abs(v));
  d3.range(8).forEach(i=>{
    const lower=(i>=3&&i<=6);
    lab(lower?360:378,i,fmt(o.a[i]),32,"#222");
    lab(lower?308:326,i,fmt(o.b[i]),32,"#222");
    lab(lower?521:538,i,(o.fc[i]<0?"\u2212":"")+fmt(o.fc[i]),32,"#222");
  });
  const nameLayout=[[0,-563,"middle"],[402,-397,"start"],[569.5,5,"start"],[402,408,"start"],[0,575,"middle"],[-404,408,"end"],[-569.5,5,"end"],[-404,-397,"end"]];
  g.append("g").selectAll("text").data(genes).join("text")
    .attr("x",(d,i)=>nameLayout[i][0]).attr("y",(d,i)=>nameLayout[i][1]).attr("text-anchor",(d,i)=>nameLayout[i][2])
    .attr("dominant-baseline","central").style("font-family",SERIF).attr("font-weight","bold").attr("font-size",30).attr("letter-spacing",1.4).attr("fill","#666").text(d=>d);
  // centre legend
  o.legend.forEach((l,i)=>{
    g.append("circle").attr("cx",o.legX).attr("cy",o.legY[i]).attr("r",15.5).attr("fill",l.fill)
      .attr("stroke",l.stroke||"none").attr("stroke-width",l.stroke?4:0);
    g.append("text").attr("x",o.legX+19).attr("y",o.legY[i]).attr("dominant-baseline","central").style("font-family",SERIF)
      .attr("font-weight","bold").attr("font-size",i<2?28:30).attr("fill","#222").text(l.t);
  });
}
radar({cx:907,cy:3265,rMax:14866.667,rOut:279,sizeDomain:[1.21,5.776],sizeRange:[22,40],fc:fcR4d,a:abundR4d,b:abundBFR4d,
  series:[{v:abundR4d,fill:"#E3B73A",op:0.8,stroke:"#DDAB14",sop:1},{v:abundBFR4d,fill:"#6A55A8",op:0.85,stroke:"#53439D",sop:1}],
  legX:-124,legY:[-50,-15,19,53],
  legend:[{t:"Abundance of R4d",fill:"#DFAE14"},{t:"Abundance of BF_R4d",fill:"#4F43A0"},{t:"Up",fill:"#EFA07F",stroke:"#D7261E"},{t:"Down",fill:"#398FD4"}]});
radar({cx:2774,cy:3268,rMax:7560,rOut:280,sizeDomain:[1.183,3.484],sizeRange:[26,40],fc:fcR7d,a:abundR7d,b:abundBFR7d,
  series:[{v:abundR7d,fill:"#9AD0AC",op:0.9,stroke:"#7FC29A",sop:1},{v:abundBFR7d,fill:"#A5756F",op:0.55,stroke:"#A8736F",sop:0.65}],
  legX:-126,legY:[-57,-23,14,50],
  legend:[{t:"Abundance of R7d",fill:"#7DBE96"},{t:"Abundance of BF_R7d",fill:"#A87B78"},{t:"Up",fill:"#EFA07F",stroke:"#D7261E"},{t:"Down",fill:"#3E8ED8"}]});
</script>
</body>
</html>
